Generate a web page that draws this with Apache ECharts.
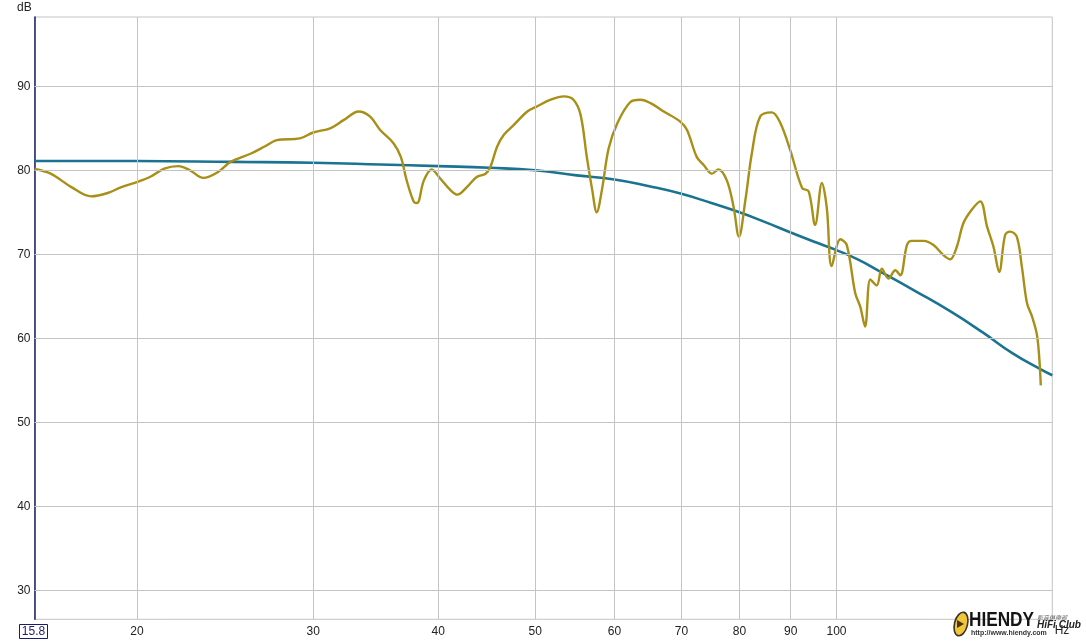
<!DOCTYPE html>
<html>
<head>
<meta charset="utf-8">
<title>Frequency response</title>
<script src="https://cdn.jsdelivr.net/npm/echarts@6/dist/echarts.min.js"></script>
<style>
  html, body { margin: 0; padding: 0; background: #fff; }
  #chart { width: 1086px; height: 643px; }
</style>
</head>
<body>
<div id="chart"></div>
<script>
// axis ranges
const freqMin = 15.8
const freqMax = 164.3
const dbMin = 26.55
const dbMax = 98.25
const freqTicks = [20, 30, 40, 50, 60, 70, 80, 90, 100]
const dbTicks = [30, 40, 50, 60, 70, 80, 90]

// measured response (gold)
const measuredFreq = [15.8, 16.4, 17.2, 18.0, 18.7, 19.3, 20.0, 20.6, 21.3, 22.0, 22.6, 23.3, 24.1, 24.8, 26.0, 26.8, 27.6, 29.1, 30.0,
  31.2, 32.2, 33.3, 34.2, 35.0, 36.1, 36.7, 37.2, 37.8, 38.1, 38.7, 39.4, 40.2, 41.1, 41.8, 42.8, 43.7, 44.6, 45.1, 45.8, 46.5, 47.6,
  49.1, 50.2, 51.8, 53.4, 54.6, 55.5, 56.3, 57.0, 57.6, 58.3, 59.2, 60.4, 62.2, 63.7, 65.2, 67.2, 69.8, 70.9, 72.5, 73.7, 75.1, 76.2,
  77.7, 78.9, 79.9, 81.1, 82.3, 83.9, 86.2, 87.9, 89.9, 92.4, 93.8, 95.2, 96.7, 97.8, 98.9, 100.9, 102.4, 104.4, 105.6, 106.8, 108.1,
  109.7, 111.0, 112.7, 114.5, 115.8, 117.6, 118.9, 122.2, 125.0, 127.9, 129.9, 131.9, 133.9, 136.5, 139.2, 141.4, 143.5, 145.4, 147.4,
  149.1, 151.4, 153.2, 155.0, 156.8, 158.6, 159.5, 160.0]
const measuredDb = [80.15, 79.6, 78.0, 76.9, 77.3, 78.0, 78.6, 79.2, 80.2, 80.5, 80.0, 79.1, 79.8, 81.0, 82.0, 82.8, 83.6, 83.8, 84.5,
  85.0, 86.0, 87.0, 86.4, 84.8, 83.2, 81.6, 78.8, 76.3, 76.1, 78.8, 80.1, 79.0, 77.7, 77.1, 78.1, 79.2, 79.6, 80.4, 82.8, 84.2, 85.4,
  87.0, 87.6, 88.4, 88.8, 88.4, 86.6, 81.6, 77.7, 75.0, 77.7, 82.6, 85.6, 88.1, 88.4, 88.0, 87.0, 85.8, 84.8, 81.6, 80.6, 79.6, 80.1,
  78.8, 75.7, 72.1, 76.5, 82.0, 86.4, 86.9, 85.6, 82.4, 77.9, 77.5, 73.5, 78.5, 75.5, 68.6, 71.8, 71.1, 65.4, 63.8, 61.4, 67.0,
  66.3, 68.3, 67.1, 68.1, 67.5, 71.1, 71.6, 71.6, 71.1, 69.9, 69.4, 70.9, 73.7, 75.3, 76.3, 73.3, 70.9, 67.9, 72.3,
  72.7, 72.1, 68.5, 64.2, 62.6, 60.4, 57.4, 54.4]

// target curve (teal)
const targetFreq = [15.8, 20, 25, 30, 35, 40, 45, 50, 55, 60, 65, 70, 75, 80, 85, 90, 95, 100, 105, 110, 120, 130, 140, 150, 160, 164.3]
const targetDb = [81.1, 81.1, 81.0, 80.9, 80.7, 80.5, 80.3, 80.0, 79.4, 78.9, 78.1, 77.2, 76.1, 75.0, 73.8, 72.6, 71.5, 70.5, 69.4, 68.1,
  65.6, 63.2, 60.7, 58.2, 56.3, 55.6]

const gridColor = '#c4c4c4'
const axisNavy = '#1c1c6a'
const labelFont = 'Liberation Sans, Arial, sans-serif'

const pairs = (xs, ys) => xs.map((x, i) => [x, ys[i]])

const chart = echarts.init(document.getElementById('chart'), null, { renderer: 'canvas' })
chart.setOption({
  animation: false,
  backgroundColor: '#fff',
  grid: {
    left: 34.5, right: 33.7, top: 17, bottom: 23.7,
    show: true, borderColor: gridColor, borderWidth: 1, backgroundColor: 'transparent'
  },
  xAxis: {
    type: 'log', logBase: 10, min: freqMin, max: freqMax,
    axisLine: { show: false }, axisTick: { show: false },
    axisLabel: { show: false }, splitLine: { show: false }, minorSplitLine: { show: false }
  },
  yAxis: {
    type: 'value', min: dbMin, max: dbMax,
    axisLine: { show: true, lineStyle: { color: axisNavy, width: 1.5 } },
    axisTick: { show: false }, axisLabel: { show: false }, splitLine: { show: false }
  },
  series: [
    {
      // grid lines and tick labels
      type: 'line', data: [], z: 1, silent: true,
      markLine: {
        silent: true, symbol: ['none', 'none'], animation: false,
        lineStyle: { color: gridColor, width: 1, type: 'solid' },
        emphasis: { disabled: true },
        data: [
          ...dbTicks.map(v => ({
            yAxis: v,
            label: { show: true, position: 'start', distance: 4, formatter: String(v),
              color: '#222', fontSize: 12, fontFamily: labelFont }
          })),
          ...freqTicks.map(v => ({
            xAxis: v,
            label: { show: true, position: 'start', distance: 6, formatter: String(v),
              color: '#222', fontSize: 12, fontFamily: labelFont }
          }))
        ]
      }
    },
    {
      name: 'target', type: 'line', z: 3,
      data: pairs(targetFreq, targetDb),
      smooth: 0.5, showSymbol: false,
      lineStyle: { color: '#1a7391', width: 2.6 }
    },
    {
      name: 'measured', type: 'line', z: 4,
      data: pairs(measuredFreq, measuredDb),
      smooth: 0.35, showSymbol: false,
      lineStyle: { color: '#a88f17', width: 2.4 }
    }
  ],
  graphic: [
    { type: 'text', left: 17, top: 2, style: { text: 'dB', fill: '#222', font: '12px ' + labelFont } },
    { type: 'rect', shape: { x: 19.5, y: 624.5, width: 28, height: 14 }, style: { fill: '#fff', stroke: axisNavy, lineWidth: 1 } },
    { type: 'text', x: 33.5, y: 631.5, style: { text: '15.8', fill: axisNavy, font: '12px ' + labelFont, align: 'center', verticalAlign: 'middle' } },
    { type: 'text', x: 1062, y: 631, z: 10, style: { text: 'Hz', fill: '#222', font: '12px ' + labelFont, align: 'center', verticalAlign: 'middle' } },
    // watermark
    { type: 'ellipse', z: 20, shape: { cx: 961, cy: 624, rx: 6.5, ry: 12 }, rotation: -0.25, originX: 961, originY: 624,
      style: { fill: '#f0c63a', stroke: '#3a3328', lineWidth: 1.6 } },
    { type: 'polygon', z: 21, shape: { points: [[957, 620], [964, 624], [957, 628]] }, style: { fill: '#4a3514' } },
    {
      type: 'group', x: 969, y: 620, scaleX: 0.86, z: 21,
      children: [
        { type: 'text', x: 0, y: 0, z: 21, style: { text: 'HIENDY', fill: '#151515', font: 'bold 20px sans-serif', verticalAlign: 'middle' } }
      ]
    },
    { type: 'text', z: 21, x: 1037, y: 617.5, style: { text: '影音俱樂部', fill: '#666', font: 'italic 6px "Noto Sans CJK TC"', verticalAlign: 'middle' } },
    { type: 'text', z: 21, x: 1037, y: 625.5, style: { text: 'HiFi Club', fill: '#222', font: 'italic bold 10px ' + labelFont, verticalAlign: 'middle' } },
    { type: 'text', z: 21, x: 971, y: 633, style: { text: 'http://www.hiendy.com', fill: '#333', font: 'bold 7px ' + labelFont, verticalAlign: 'middle' } }
  ]
})
window.addEventListener('resize', function () {
  chart.resize()
})
</script>
</body>
</html>
